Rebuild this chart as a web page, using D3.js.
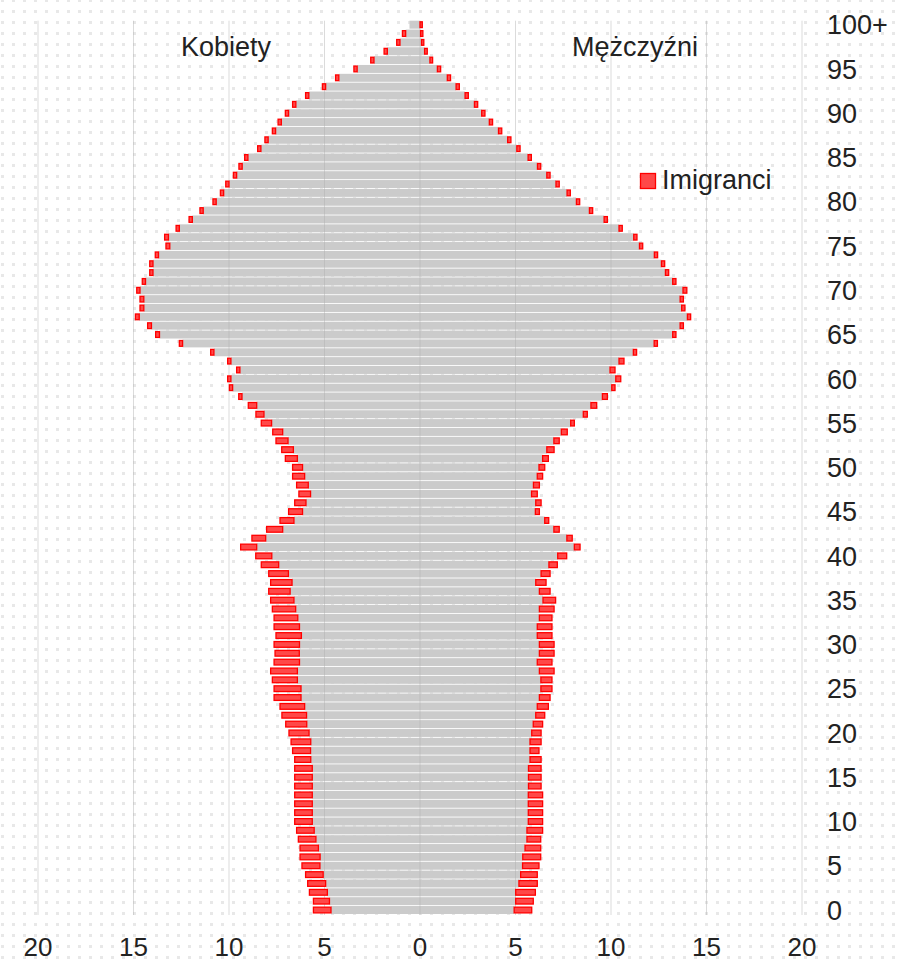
<!DOCTYPE html>
<html>
<head>
<meta charset="utf-8">
<script src="https://cdn.jsdelivr.net/npm/d3@7"></script>
<style>
  body { margin: 0; background: #fff; }
  svg { display: block; font-family: "Liberation Sans", Arial, sans-serif; }
</style>
</head>
<body>
<div id="container"></div>
<script>
/* CONSTANTS AND GLOBALS */
const width = 900,
  height = 962,
  margin = { top: 20.7, left: 38, bottom: 48, right: 98 };

/* DATA - share per age, ages 0 .. 100+ */
const ages = d3.range(0, 101);
const ageTicks = [0, 5, 10, 15, 20, 25, 30, 35, 40, 45, 50, 55, 60, 65, 70, 75, 80, 85, 90, 95, 100];
const xTicks = [-20, -15, -10, -5, 0, 5, 10, 15, 20];

// Kobiety (left) - total bar length incl. immigrants
const womenTotal = [
  5.58, 5.58, 5.79, 5.88, 5.99, 6.18, 6.28, 6.28, 6.37, 6.46,
  6.56, 6.56, 6.56, 6.56, 6.56, 6.56, 6.56, 6.56, 6.67, 6.75,
  6.86, 7.03, 7.23, 7.33, 7.64, 7.64, 7.73, 7.82, 7.64, 7.59,
  7.64, 7.54, 7.64, 7.64, 7.73, 7.82, 7.92, 7.82, 7.92, 8.31,
  8.60, 9.39, 8.80, 8.03, 7.33, 6.88, 6.56, 6.34, 6.46, 6.67,
  6.67, 7.05, 7.24, 7.54, 7.71, 8.31, 8.59, 8.99, 9.49, 9.98,
  10.07, 9.60, 10.07, 10.96, 12.60, 13.84, 14.26, 14.90, 14.66, 14.66,
  14.83, 14.54, 14.15, 14.15, 13.86, 13.30, 13.37, 12.77, 12.09, 11.52,
  10.84, 10.45, 10.17, 9.77, 9.48, 9.18, 8.50, 8.12, 7.73, 7.43,
  7.05, 6.67, 5.99, 5.11, 4.42, 3.46, 2.58, 1.88, 1.22, 0.92,
  0.55
];
const womenImmigrants = [
  0.92, 0.84, 0.94, 0.94, 0.92, 0.94, 1.05, 0.96, 0.92, 0.92,
  0.92, 0.92, 0.92, 0.92, 0.92, 0.92, 0.92, 0.84, 0.94, 1.03,
  1.05, 1.10, 1.29, 1.29, 1.41, 1.41, 1.31, 1.40, 1.33, 1.27,
  1.33, 1.33, 1.33, 1.24, 1.22, 1.22, 1.12, 1.12, 1.03, 0.91,
  0.84, 0.84, 0.72, 0.84, 0.73, 0.73, 0.59, 0.61, 0.61, 0.63,
  0.52, 0.63, 0.61, 0.63, 0.52, 0.54, 0.42, 0.44, 0.17, 0.17,
  0.17, 0.17, 0.17, 0.17, 0.17, 0.2, 0.2, 0.2, 0.2, 0.2,
  0.17, 0.17, 0.17, 0.17, 0.17, 0.2, 0.2, 0.17, 0.17, 0.17,
  0.17, 0.17, 0.17, 0.17, 0.17, 0.17, 0.17, 0.17, 0.17, 0.17,
  0.17, 0.17, 0.17, 0.17, 0.17, 0.17, 0.17, 0.17, 0.17, 0.17,
  0
];

// Mężczyźni (right)
const menTotal = [
  5.85, 5.93, 6.04, 6.14, 6.14, 6.23, 6.32, 6.32, 6.32, 6.42,
  6.42, 6.42, 6.42, 6.42, 6.34, 6.34, 6.34, 6.34, 6.23, 6.34,
  6.34, 6.42, 6.53, 6.72, 6.81, 6.91, 6.91, 7.02, 6.91, 7.02,
  7.02, 6.91, 6.91, 6.91, 7.02, 7.10, 6.81, 6.60, 6.81, 7.19,
  7.68, 8.38, 7.97, 7.29, 6.74, 6.25, 6.34, 6.14, 6.25, 6.42,
  6.53, 6.72, 7.02, 7.29, 7.71, 8.08, 8.76, 9.25, 9.81, 10.21,
  10.51, 10.21, 10.68, 11.34, 12.43, 13.40, 13.79, 14.17, 13.87, 13.79,
  13.97, 13.40, 13.02, 12.81, 12.44, 11.66, 11.36, 10.59, 9.81, 9.04,
  8.36, 7.87, 7.29, 6.81, 6.32, 5.83, 5.24, 4.76, 4.28, 3.80,
  3.40, 3.02, 2.53, 2.06, 1.60, 1.08, 0.66, 0.38, 0.20, 0.15,
  0.12
];
const menImmigrants = [
  0.92, 0.92, 1.03, 0.96, 0.87, 0.86, 0.94, 0.82, 0.72, 0.82,
  0.75, 0.75, 0.75, 0.75, 0.66, 0.66, 0.66, 0.58, 0.47, 0.58,
  0.49, 0.49, 0.47, 0.58, 0.56, 0.58, 0.58, 0.77, 0.77, 0.77,
  0.77, 0.77, 0.77, 0.66, 0.77, 0.66, 0.56, 0.54, 0.47, 0.44,
  0.47, 0.30, 0.28, 0.28, 0.21, 0.21, 0.28, 0.30, 0.31, 0.28,
  0.30, 0.30, 0.38, 0.28, 0.31, 0.19, 0.21, 0.30, 0.26, 0.17,
  0.26, 0.26, 0.26, 0.17, 0.17, 0.17, 0.17, 0.17, 0.17, 0.17,
  0.2, 0.17, 0.17, 0.17, 0.17, 0.17, 0.17, 0.17, 0.17, 0.17,
  0.17, 0.17, 0.17, 0.17, 0.17, 0.17, 0.17, 0.17, 0.17, 0.17,
  0.17, 0.17, 0.17, 0.17, 0.17, 0.17, 0.14, 0.14, 0.12, 0.12,
  0.12
];

const data = ages.map((a, i) => ({
  age: a,
  wTotal: womenTotal[i],
  wImm: womenImmigrants[i],
  mTotal: menTotal[i],
  mImm: menImmigrants[i]
}));

// SCALES
const xScale = d3.scaleLinear()
  .domain([-20, 20])
  .range([margin.left, width - margin.right]);

const yScale = d3.scaleBand()
  .domain(ages.slice().reverse()) // 100+ on top
  .range([margin.top, height - margin.bottom])
  .paddingInner(0.1);

// CREATE SVG ELEMENT
const svg = d3.select("#container")
  .append("svg")
  .attr("width", width)
  .attr("height", height);

// dotted background
const defs = svg.append("defs");
defs.append("pattern")
  .attr("id", "dots")
  .attr("patternUnits", "userSpaceOnUse")
  .attr("x", 12)
  .attr("y", 10)
  .attr("width", 11)
  .attr("height", 11)
  .append("rect")
  .attr("width", 3)
  .attr("height", 3)
  .attr("fill", "#e8e8e8");

svg.append("rect")
  .attr("width", width)
  .attr("height", height)
  .attr("fill", "url(#dots)");

// GREY BARS (native part)
svg.append("g").selectAll("rect.women")
  .data(data)
  .join("rect")
  .attr("class", "women")
  .attr("x", d => xScale(-(d.wTotal - d.wImm)))
  .attr("width", d => xScale(0) - xScale(-(d.wTotal - d.wImm)))
  .attr("y", d => yScale(d.age))
  .attr("height", yScale.bandwidth())
  .attr("fill", "#cbcbcb");

svg.append("g").selectAll("rect.men")
  .data(data)
  .join("rect")
  .attr("class", "men")
  .attr("x", xScale(0))
  .attr("width", d => xScale(d.mTotal - d.mImm) - xScale(0))
  .attr("y", d => yScale(d.age))
  .attr("height", yScale.bandwidth())
  .attr("fill", "#cbcbcb");

// GRIDLINES (drawn over the bars, faint)
svg.append("g").selectAll("line")
  .data(xTicks)
  .join("line")
  .attr("x1", d => xScale(d))
  .attr("x2", d => xScale(d))
  .attr("y1", margin.top)
  .attr("y2", height - margin.bottom + 1)
  .attr("stroke", "#b0b0b0")
  .attr("stroke-opacity", 0.45)
  .attr("stroke-width", 1);

// RED BARS (immigrants, outer end)
const inset = yScale.bandwidth() * 0.14;
svg.append("g").selectAll("rect.wimm")
  .data(data.filter(d => d.wImm > 0))
  .join("rect")
  .attr("class", "wimm")
  .attr("x", d => xScale(-d.wTotal))
  .attr("width", d => xScale(-(d.wTotal - d.wImm)) - xScale(-d.wTotal))
  .attr("y", d => yScale(d.age) + inset)
  .attr("height", yScale.bandwidth() - 2 * inset)
  .attr("fill", "#ff4848")
  .attr("stroke", "#ff0000")
  .attr("stroke-width", 1.3);

svg.append("g").selectAll("rect.mimm")
  .data(data.filter(d => d.mImm > 0))
  .join("rect")
  .attr("class", "mimm")
  .attr("x", d => xScale(d.mTotal - d.mImm))
  .attr("width", d => xScale(d.mTotal) - xScale(d.mTotal - d.mImm))
  .attr("y", d => yScale(d.age) + inset)
  .attr("height", yScale.bandwidth() - 2 * inset)
  .attr("fill", "#ff4848")
  .attr("stroke", "#ff0000")
  .attr("stroke-width", 1.3);

// X AXIS LABELS (absolute values)
svg.append("g").selectAll("text")
  .data(xTicks)
  .join("text")
  .attr("x", d => xScale(d))
  .attr("y", 956)
  .attr("text-anchor", "middle")
  .style("font-size", "26px")
  .attr("fill", "#222")
  .text(d => Math.abs(d));

// AGE LABELS (right)
svg.append("g").selectAll("text")
  .data(ageTicks)
  .join("text")
  .attr("x", 827)
  .attr("y", d => yScale(d) + yScale.bandwidth() / 2)
  .attr("dy", "0.36em")
  .style("font-size", "27px")
  .attr("fill", "#222")
  .text(d => d === 100 ? "100+" : d);

// SIDE TITLES
svg.append("text")
  .attr("x", 226)
  .attr("y", 56)
  .attr("text-anchor", "middle")
  .style("font-size", "27px")
  .attr("fill", "#222")
  .text("Kobiety");

svg.append("text")
  .attr("x", 635)
  .attr("y", 56)
  .attr("text-anchor", "middle")
  .style("font-size", "27px")
  .attr("fill", "#222")
  .text("Mężczyźni");

// LEGEND
svg.append("rect")
  .attr("x", 640.5)
  .attr("y", 173.5)
  .attr("width", 15)
  .attr("height", 15)
  .attr("fill", "#ff4848")
  .attr("stroke", "#ff0000")
  .attr("stroke-width", 1.3);

svg.append("text")
  .attr("x", 662)
  .attr("y", 189)
  .style("font-size", "27px")
  .attr("fill", "#222")
  .text("Imigranci");
</script>
</body>
</html>
